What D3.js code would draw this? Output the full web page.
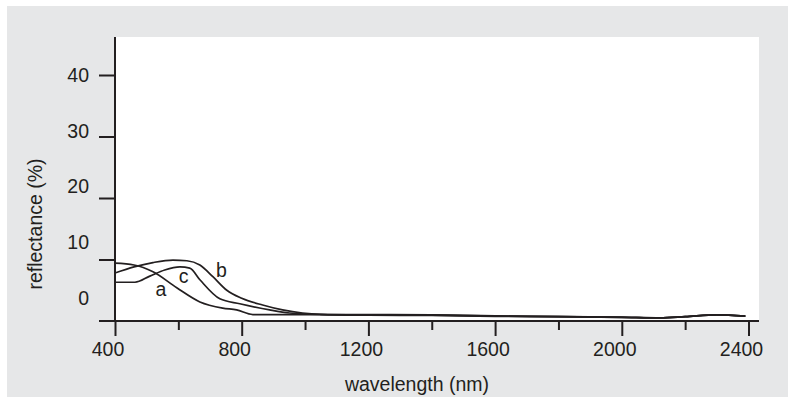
<!DOCTYPE html>
<html>
<head>
<meta charset="utf-8">
<script src="https://cdn.jsdelivr.net/npm/d3@7"></script>
<style>
  body { margin: 0; background: #fff; }
  svg text { font-family: "Liberation Sans", Arial, sans-serif; fill: #231f20; }
</style>
</head>
<body>
<svg id="chart" width="788" height="403"></svg>
<script>
// reflectance curves, [wavelength nm, reflectance]
const curveA = [[400, 9.4], [460, 9.1], [520, 8.0], [595, 5.4], [668, 3.1], [740, 2.1], [784, 1.8], [835, 1.05],
  [1000, 1.05], [1200, 1.05], [1400, 1.0], [1600, 0.85], [1800, 0.7], [2000, 0.65], [2120, 0.5], [2200, 0.7], [2300, 1.0], [2390, 0.8]];
const curveB = [[400, 7.8], [460, 8.8], [520, 9.5], [583, 9.9], [627, 9.8], [668, 9.1], [709, 7.2], [753, 5.0], [800, 3.7],
  [866, 2.6], [929, 1.8], [992, 1.3], [1050, 1.1], [1200, 1.0], [1400, 0.95], [1600, 0.8], [1800, 0.7], [2000, 0.6],
  [2120, 0.5], [2200, 0.7], [2300, 1.0], [2390, 0.8]];
const curveC = [[400, 6.3], [463, 6.3], [510, 7.3], [557, 8.3], [605, 8.8], [636, 8.6], [668, 6.7], [731, 3.6], [794, 2.8],
  [888, 1.8], [951, 1.3], [1050, 1.05], [1200, 0.95], [1400, 0.9], [1600, 0.75], [1800, 0.7], [2000, 0.6],
  [2120, 0.5], [2200, 0.7], [2300, 1.0], [2390, 0.8]];

const curveNames = ['a', 'b', 'c'];
// where each curve letter sits, [wavelength, reflectance]
const curveLabelPos = [[545, 4.1], [736, 7.2], [617, 6.2]];

const xMajorTicks = [400, 800, 1200, 1600, 2000, 2400];
const xMinorTicks = [600, 1000, 1400, 1800, 2200];
const yTicks = [10, 20, 30, 40];
const yTickLabels = [0, 10, 20, 30, 40];

const svg = d3.select('#chart');
const ink = '#231f20';

// background panel + white plot area
svg.append('rect')
  .attr('x', 7).attr('y', 6)
  .attr('width', 781).attr('height', 391)
  .attr('fill', '#e6e7e8');

const x = d3.scaleLinear().domain([400, 2400]).range([115, 748.5]);
const y = d3.scaleLinear().domain([0, 40]).range([321, 75]);
// the printed numbers drift away from their ticks in the original
const yLabel = d3.scaleLinear().domain([0, 40]).range([298, 75]);

svg.append('rect')
  .attr('x', 115).attr('y', 37)
  .attr('width', 759 - 115).attr('height', 321 - 37)
  .attr('fill', '#fff');

// x axis
const xMajor = svg.append('g')
  .attr('transform', `translate(0,${y(0)})`)
  .call(d3.axisBottom(x).tickValues(xMajorTicks).tickSize(15).tickFormat(''));
const xMinor = svg.append('g')
  .attr('transform', `translate(0,${y(0)})`)
  .call(d3.axisBottom(x).tickValues(xMinorTicks).tickSize(9).tickFormat(''));
[xMajor, xMinor].forEach(g => {
  g.select('.domain').remove();
  g.selectAll('line').attr('stroke', ink).attr('stroke-width', 2);
});

svg.append('g').selectAll('text')
  .data(xMajorTicks)
  .enter().append('text')
  .attr('x', d => x(d) - 7)
  .attr('y', 356)
  .attr('text-anchor', 'middle')
  .style('font-size', '19.5px')
  .text(d => d);

// y axis
const yAxis = svg.append('g')
  .attr('transform', `translate(${x(400)},0)`)
  .call(d3.axisLeft(y).tickValues(yTicks).tickSize(16).tickFormat(''));
yAxis.select('.domain').remove();
yAxis.selectAll('line').attr('stroke', ink).attr('stroke-width', 2);

svg.append('g').selectAll('text')
  .data(yTickLabels)
  .enter().append('text')
  .attr('x', 89)
  .attr('y', d => yLabel(d))
  .attr('dy', '0.35em')
  .attr('text-anchor', 'end')
  .style('font-size', '19.5px')
  .text(d => d);

// axis lines
svg.append('line')
  .attr('x1', 99).attr('x2', 759)
  .attr('y1', y(0)).attr('y2', y(0))
  .attr('stroke', ink).attr('stroke-width', 2);
svg.append('line')
  .attr('x1', x(400)).attr('x2', x(400))
  .attr('y1', 37).attr('y2', y(0))
  .attr('stroke', ink).attr('stroke-width', 2);

// curves
const line = d3.line()
  .x(d => x(d[0]))
  .y(d => y(d[1]))
  .curve(d3.curveMonotoneX);

svg.append('g').selectAll('path')
  .data([curveA, curveB, curveC])
  .enter().append('path')
  .attr('d', line)
  .attr('fill', 'none')
  .attr('stroke', ink)
  .attr('stroke-width', 1.7);

svg.append('g').selectAll('text')
  .data(curveNames)
  .enter().append('text')
  .attr('x', (d, i) => x(curveLabelPos[i][0]))
  .attr('y', (d, i) => y(curveLabelPos[i][1]))
  .attr('text-anchor', 'middle')
  .style('font-size', '19.5px')
  .text(d => d);

// axis titles
svg.append('text')
  .attr('x', 417)
  .attr('y', 391)
  .attr('text-anchor', 'middle')
  .style('font-size', '19.5px')
  .text('wavelength (nm)');

svg.append('text')
  .attr('transform', 'translate(42,224) rotate(-90)')
  .attr('text-anchor', 'middle')
  .style('font-size', '19.5px')
  .text('reflectance (%)');
</script>
</body>
</html>
